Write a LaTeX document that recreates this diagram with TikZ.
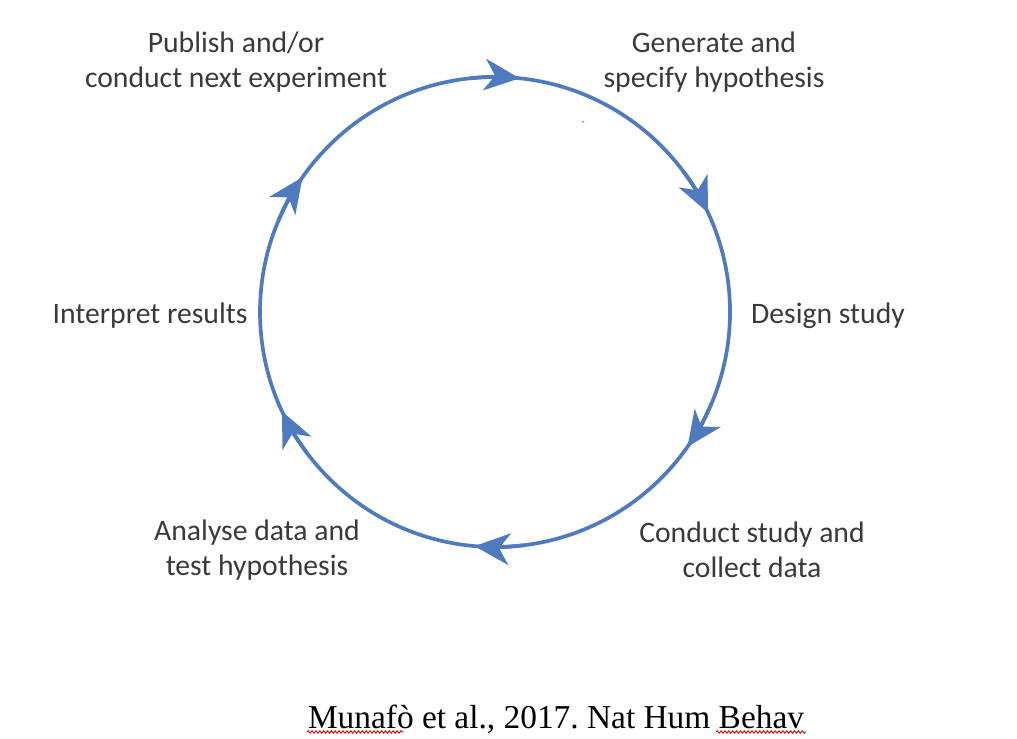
\documentclass[tikz,border=0pt]{standalone}
\usepackage{fontspec}
\setmainfont{Carlito}
\newfontfamily\citefont{Liberation Serif}
\usetikzlibrary{arrows.meta,decorations.pathmorphing}
\definecolor{cycleblue}{RGB}{79,122,189}
\definecolor{labelgray}{RGB}{58,58,58}
\frenchspacing
\begin{document}
\begin{tikzpicture}[x=0.02cm,y=0.02cm,
  lbl/.style={font=\fontsize{16.9}{19.9}\selectfont, text=labelgray, align=center, inner sep=0pt},
  ring/.style={draw=cycleblue, line width=2.1pt},
  cyctip/.style={ring, -{Stealth[length=20pt, width=18pt, inset=6pt]}},
  squiggle/.style={draw=red!85!black, line width=0.5pt, decorate, decoration={snake, amplitude=0.7pt, segment length=2.2pt}}]
\useasboundingbox (0,0) rectangle (1017,739);
\coordinate (c) at (495,427);
\draw[ring] (c) circle [radius=235];
\foreach \a in {84,25,-35,-95,-155,145}{
  \draw[cyctip] ([shift={(\a+12:235)}]c) arc[start angle=\a+12, end angle=\a, radius=235];
}
\node[lbl] (publish) at (236,677) {Publish and/or\\conduct next experiment};
\node[lbl] (generate) at (714,677) {Generate and\\specify hypothesis};
\node[lbl] (design) at (828,423) {Design study};
\node[lbl] (conduct) at (752,189) {Conduct study and\\collect data};
\node[lbl] (analyse) at (257,189) {Analyse data and\\test hypothesis};
\node[lbl] (interpret) at (150,423) {Interpret results};
\node[font=\citefont\fontsize{19}{23}\selectfont, inner sep=0pt] (cite) at (556,20) {Munafò et al., 2017. Nat Hum Behav};
\draw[squiggle] (307,7) -- (404,7);
\draw[squiggle] (716,7) -- (806,7);
\fill[red!70] (583,617) circle [radius=1];
\end{tikzpicture}
\end{document}
